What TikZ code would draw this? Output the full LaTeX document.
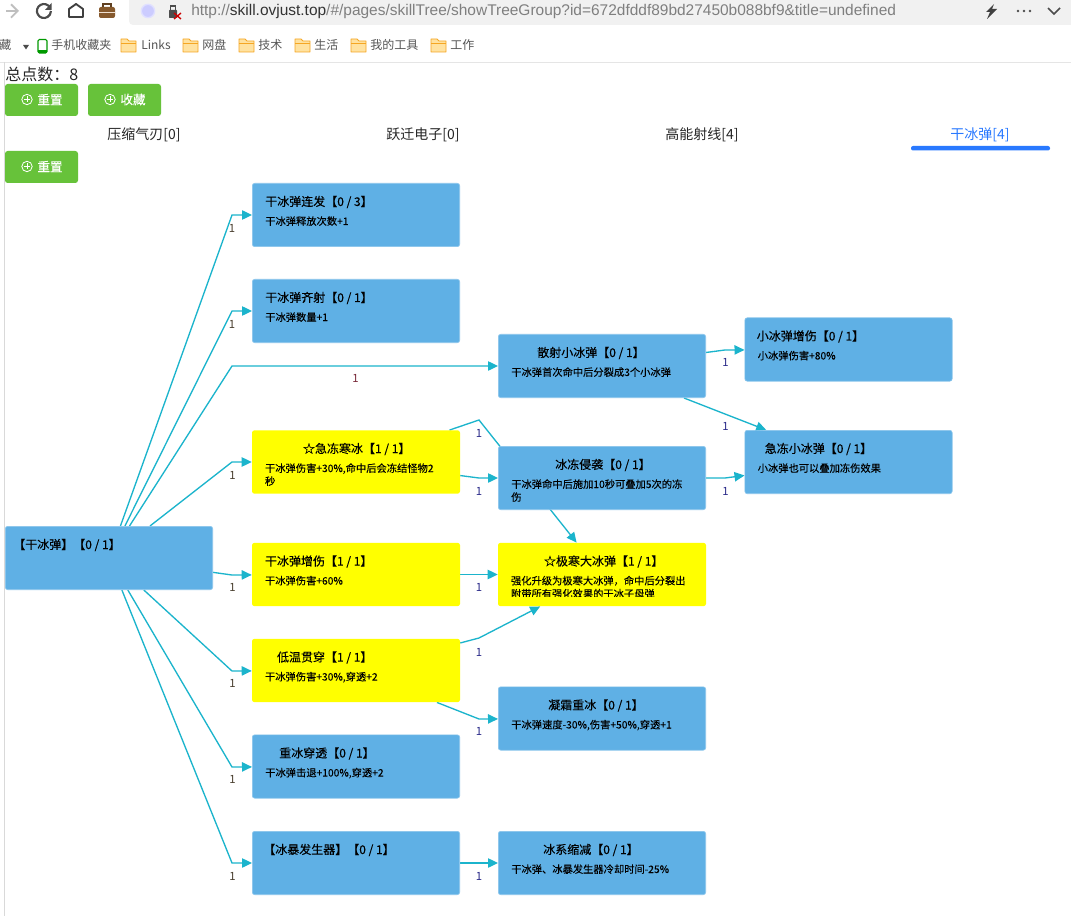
\documentclass[tikz,border=0pt]{standalone}
\usepackage{fontspec}
\setmainfont{Noto Sans CJK SC}
\newfontfamily\urlfont{Liberation Sans}
\newfontfamily\ttlfont[FakeBold=0.25]{Noto Sans CJK SC}
\newfontfamily\dscfont[FakeBold=0.1]{Noto Sans CJK SC}
\usetikzlibrary{arrows.meta,backgrounds}
\definecolor{boxblue}{HTML}{5FB0E5}
\definecolor{boxedge}{HTML}{8CC6EC}
\definecolor{boxyel}{HTML}{FFFF00}
\definecolor{edgecol}{HTML}{1BB4CC}
\definecolor{btngreen}{HTML}{67C23A}
\definecolor{tabblue}{HTML}{2979FF}
\definecolor{urlgray}{HTML}{7F7F7F}
\definecolor{barbg}{HTML}{F1F1F1}
\definecolor{foldfill}{HTML}{FFE2A0}
\definecolor{foldline}{HTML}{F5A623}
\definecolor{bmtext}{HTML}{555555}
\definecolor{numred}{HTML}{7A2A3A}
\definecolor{numblue}{HTML}{2C2C8A}
\definecolor{numbrn}{HTML}{4A4030}
\tikzset{
  x=0.75pt,y=-0.75pt,
  bluebox/.style={draw=boxedge,line width=0.5pt,fill=boxblue,rounded corners=1.8pt,minimum width=155.5pt,minimum height=47.5pt,inner sep=0pt},
  yelbox/.style={fill=boxyel,rounded corners=1.8pt,minimum width=156pt,minimum height=47.5pt,inner sep=0pt},
  ttl/.style={anchor=base west,inner sep=0pt,font=\ttlfont\fontsize{9}{9}\selectfont,text=black},
  dsc/.style={anchor=base west,inner sep=0pt,font=\dscfont\fontsize{7.7}{7.7}\selectfont,text=black},
  edge/.style={draw=edgecol,line width=1pt,-{Triangle[length=7.5pt,width=7pt]}},
  num/.style={inner sep=0pt,font=\fontsize{8.5}{8.5}\selectfont,text=numbrn},
  btn/.style={fill=btngreen,rounded corners=2pt,minimum width=54.75pt,minimum height=24pt,inner sep=0pt},
  btntxt/.style={inner sep=0pt,font=\ttlfont\fontsize{9.4}{9.4}\selectfont,text=white},
  tab/.style={inner sep=0pt,font=\fontsize{10.5}{10.5}\selectfont,text=black!85},
  bm/.style={anchor=base west,inner sep=0pt,font=\fontsize{9}{9}\selectfont,text=bmtext},
  folder/.style={draw=foldline,fill=foldfill,line width=0.7pt,line join=round},
}
\newcommand{\skillbox}[7]{%
  \node[#2] (#1) at (#3,#4) {};
  \node[ttl] (#1t) at ([shift={(#5,23)}]#1.north west) {#6};
  \node[dsc] (#1d) at ([shift={(13,42)}]#1.north west) {#7};
}
\newcommand{\fold}[1]{%
  \draw[folder] (#1,52) -- (#1,39) -- (#1+6,39) -- (#1+8,41) -- (#1+15,41) -- (#1+15,52) -- cycle;
  \draw[foldline,line width=0.5pt] (#1,43) -- (#1+15,43);
}
\newcommand{\btnicon}[2]{%
  \draw[white,line width=0.6pt] (#1,#2) circle (3.9pt);
  \draw[white,line width=0.6pt] (#1-3,#2) -- (#1+3,#2) (#1,#2-3) -- (#1,#2+3);
}
\begin{document}
\begin{tikzpicture}
\useasboundingbox (0,0) rectangle (1071,916);
\begin{pgfonlayer}{background}
\fill[white] (0,0) rectangle (1071,916);
\end{pgfonlayer}
% browser chrome
\fill[barbg,rounded corners=3pt] (129,-5) rectangle (1076,25);
\draw[black!25,line width=1.4pt,-{Straight Barb[length=5pt,width=10pt]}] (6,11) -- (19,11);
\draw[black!70,line width=1.6pt] (50,7.5) arc (-30:-360:7);
\fill[black!70] (51.5,3) -- (51.5,10) -- (45,10) -- cycle;
\draw[black!75,line width=1.4pt,line join=round] (69,17) -- (69,9) -- (76,4) -- (83,9) -- (83,17) -- cycle;
\fill[brown!70!black,rounded corners=1.5pt] (99,7) rectangle (115,18);
\draw[brown!50!black,line width=0.9pt] (103,7) -- (103,4) -- (111,4) -- (111,7);
\draw[brown!25,line width=0.5pt] (99,12) -- (115,12);
\fill[blue!20] (148,11) circle (5pt);
\draw[blue!12,line width=1pt] (148,11) circle (5pt);
\fill[black!70,rounded corners=0.5pt] (169,10) rectangle (177,18);
\draw[black!70,line width=1pt] (170.5,10) -- (170.5,6) -- (175.5,6) -- (175.5,10);
\draw[red!80!black,line width=1pt] (174,13) -- (181,19) (181,13) -- (174,19);
\node[anchor=base west,inner sep=0pt,font=\urlfont\fontsize{11.6}{11.6}\selectfont,text=urlgray] (url) at (191,16) {http://\textcolor{black!80}{skill.ovjust.top}/\#/pages/skillTree/showTreeGroup?id=672dfddf89bd27450b088bf9\&title=undefined};
\fill[black!75] (994,4) -- (986,12) -- (990,12) -- (987,19) -- (997,9) -- (992,9) -- cycle;
\fill[black!70] (1018,11) circle (1pt) (1024,11) circle (1pt) (1030,11) circle (1pt);
\draw[black!70,line width=1.2pt] (1048,8) -- (1054,14) -- (1060,8);
% bookmarks
\node[bm] (bm0) at (-1,50) {藏};
\fill[black!70] (23,45) -- (29,45) -- (26,49.5) -- cycle;
\draw[green!60!black,line width=0.8pt,rounded corners=1pt] (38,39.5) rectangle (47,53);
\fill[green!60!black] (38,50) rectangle (47,53);
\node[bm] (bm1) at (51,50) {手机收藏夹};
\fold{121}\node[bm] (bm2) at (141,50) {Links};
\fold{183}\node[bm] (bm3) at (202,50) {网盘};
\fold{239}\node[bm] (bm4) at (258,50) {技术};
\fold{295}\node[bm] (bm5) at (314,50) {生活};
\fold{351}\node[bm] (bm6) at (370,50) {我的工具};
\fold{431}\node[bm] (bm7) at (450,50) {工作};
\draw[black!10,line width=0.6pt] (0,62) -- (1071,62);
\draw[black!15,line width=0.7pt] (4.5,62) -- (4.5,916);
% header
\node[anchor=base west,inner sep=0pt,font=\fontsize{12}{12}\selectfont,text=black!85] (total) at (5,81) {总点数：8};
\node[btn] (btn1) at (41.5,100) {};
\btnicon{27}{99.5}\node[btntxt] (btn1t) at (50,99.5) {重置};
\node[btn] (btn2) at (124.5,100) {};
\btnicon{110}{99.5}\node[btntxt] (btn2t) at (133,99.5) {收藏};
\node[tab] (tab1) at (144,135) {压缩气刃[0]};
\node[tab] (tab2) at (423,135) {跃迁电子[0]};
\node[tab] (tab3) at (702,135) {高能射线[4]};
\node[tab,text=tabblue] (tab4) at (980,135) {干冰弹[4]};
\fill[tabblue,rounded corners=1.5pt] (911,146) rectangle (1050,150.5);
\node[btn] (btn3) at (41.5,167) {};
\btnicon{27}{166.5}\node[btntxt] (btn3t) at (50,166.5) {重置};
% boxes
\skillbox{r}{bluebox}{109}{558}{8}{【干冰弹】【0 / 1】}{}
\skillbox{a1}{bluebox}{356}{215}{13}{干冰弹连发【0 / 3】}{干冰弹释放次数+1}
\skillbox{a2}{bluebox}{356}{311}{13}{干冰弹齐射【0 / 1】}{干冰弹数量+1}
\skillbox{a4}{yelbox}{356}{462}{51}{☆急冻寒冰【1 / 1】}{干冰弹伤害+30\%,命中后会冻结怪物2}
\skillbox{a5}{yelbox}{356}{574.5}{13}{干冰弹增伤【1 / 1】}{干冰弹伤害+60\%}
\skillbox{a6}{yelbox}{356}{670.5}{25}{低温贯穿【1 / 1】}{干冰弹伤害+30\%,穿透+2}
\skillbox{a7}{bluebox}{356}{766.5}{27}{重冰穿透【0 / 1】}{干冰弹击退+100\%,穿透+2}
\skillbox{a8}{bluebox}{356}{863}{11}{【冰暴发生器】【0 / 1】}{}
\skillbox{c1}{bluebox}{602}{366}{39}{散射小冰弹【0 / 1】}{干冰弹首次命中后分裂成3个小冰弹}
\skillbox{c2}{bluebox}{602}{478}{57}{冰冻侵袭【0 / 1】}{干冰弹命中后施加10秒可叠加5次的冻}
\skillbox{c3}{yelbox}{602}{574.5}{46}{☆极寒大冰弹【1 / 1】}{强化升级为极寒大冰弹，命中后分裂出}
\skillbox{c4}{bluebox}{602}{718.5}{50}{凝霜重冰【0 / 1】}{干冰弹速度-30\%,伤害+50\%,穿透+1}
\skillbox{c5}{bluebox}{602}{863}{45}{冰系缩减【0 / 1】}{干冰弹、冰暴发生器冷却时间-25\%}
\skillbox{d1}{bluebox}{848.5}{349.5}{12}{小冰弹增伤【0 / 1】}{小冰弹伤害+80\%}
\skillbox{d2}{bluebox}{848.5}{462}{20}{急冻小冰弹【0 / 1】}{小冰弹也可以叠加冻伤效果}
\node[dsc] (a4e) at ([shift={(13,55)}]a4.north west) {秒};
\node[dsc] (c2e) at ([shift={(13,55)}]c2.north west) {伤};
\begin{scope}
\clip (498,585) rectangle (706,596);
\node[dsc] (c3e) at ([shift={(13,55)}]c3.north west) {附带所有强化效果的干冰子母弹};
\end{scope}
% connectors
\begin{pgfonlayer}{background}
\coordinate (b1) at (232,215);
\coordinate (b2) at (232,311);
\coordinate (b3) at (232,366);
\coordinate (b4) at (232,462);
\coordinate (b5) at (232,575);
\coordinate (b6) at (232,671);
\coordinate (b7) at (232,767);
\coordinate (b8) at (232,863);
\coordinate (e1) at (479,420);
\coordinate (e2) at (479,478);
\coordinate (e3) at (479,574.5);
\coordinate (e4) at (479,638);
\coordinate (e5) at (479,719);
\coordinate (e6) at (479,863);
\coordinate (f1) at (725,350);
\coordinate (f2) at (725,414);
\coordinate (f3) at (725,478);
\draw[edge] (r) -- (b1) -- (a1);
\draw[edge] (r) -- (b2) -- (a2);
\draw[edge] (r) -- (b3) -- (c1);
\draw[edge] (r) -- (b4) -- (a4);
\draw[edge] (r) -- (b5) -- (a5);
\draw[edge] (r) -- (b6) -- (a6);
\draw[edge] (r) -- (b7) -- (a7);
\draw[edge] (r) -- (b8) -- (a8);
\draw[edge] (a4) -- (e1) -- (c3);
\draw[edge] (a4) -- (e2) -- (c2);
\draw[edge] (a5) -- (e3) -- (c3);
\draw[edge] (a6) -- (e4) -- (c3);
\draw[edge] (a6) -- (e5) -- (c4);
\draw[edge] (a8) -- (e6) -- (c5);
\draw[edge] (c1) -- (f1) -- (d1);
\draw[edge] (c1) -- (f2) -- (d2);
\draw[edge] (c2) -- (f3) -- (d2);
\end{pgfonlayer}
% connector labels
\node[num] (n1) at (232,228) {1};
\node[num] (n2) at (232,324) {1};
\node[num,text=numred] (n3) at (355.5,378) {1};
\node[num] (n4) at (232.5,475) {1};
\node[num] (n5) at (232.5,587) {1};
\node[num] (n6) at (232.5,683) {1};
\node[num] (n7) at (232.5,779) {1};
\node[num] (n8) at (232.5,876) {1};
\node[num,text=numblue] (n9) at (479,433) {1};
\node[num,text=numblue] (n10) at (479,491) {1};
\node[num,text=numblue] (n11) at (479,587) {1};
\node[num,text=numblue] (n12) at (479,652) {1};
\node[num,text=numblue] (n13) at (479,731) {1};
\node[num,text=numblue] (n14) at (479,876) {1};
\node[num,text=numblue] (n15) at (725.5,362) {1};
\node[num,text=numblue] (n16) at (725.5,426) {1};
\node[num,text=numblue] (n17) at (725.5,491) {1};
\end{tikzpicture}
\end{document}
